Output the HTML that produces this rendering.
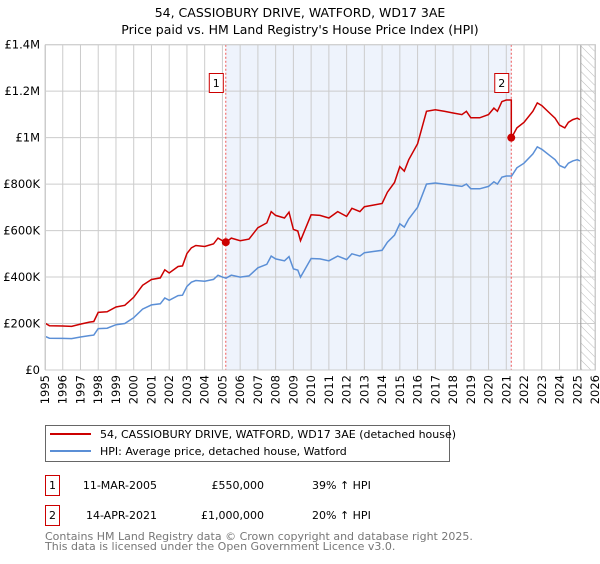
<!DOCTYPE html>
<html><head><meta charset="utf-8"><style>
body{margin:0;background:#fff;font-family:"DejaVu Sans","Liberation Sans",sans-serif;}
svg text{font-family:"DejaVu Sans","Liberation Sans",sans-serif;}
</style></head><body>
<svg id="c" width="600" height="560" xmlns="http://www.w3.org/2000/svg">
<defs><pattern id="hatch" width="6" height="6" patternUnits="userSpaceOnUse" patternTransform="rotate(-45)"><line x1="0" y1="0" x2="0" y2="6" stroke="#bbb" stroke-width="1"/></pattern></defs>
<text x="300" y="17" text-anchor="middle" font-size="12.5" fill="#000">54, CASSIOBURY DRIVE, WATFORD, WD17 3AE</text>
<text x="300" y="34" text-anchor="middle" font-size="12.5" fill="#000">Price paid vs. HM Land Registry's House Price Index (HPI)</text>
<g id="plot"></g>
<g>
<rect x="45.5" y="425.5" width="404" height="36" fill="#fff" stroke="#666"/>
<line x1="50" y1="434" x2="91" y2="434" stroke="#cc0000" stroke-width="2"/>
<text x="100" y="438" font-size="11">54, CASSIOBURY DRIVE, WATFORD, WD17 3AE (detached house)</text>
<line x1="50" y1="451" x2="91" y2="451" stroke="#5b8fd6" stroke-width="2"/>
<text x="100" y="455" font-size="11">HPI: Average price, detached house, Watford</text>
</g>
<g font-size="11">
<rect x="45.5" y="475.5" width="14" height="20" fill="#fff" stroke="#cc0000"/>
<text x="52.5" y="489" text-anchor="middle">1</text>
<text x="157" y="489" text-anchor="end">11-MAR-2005</text>
<text x="264" y="489" text-anchor="end">£550,000</text>
<text x="312" y="489">39% ↑ HPI</text>
<rect x="45.5" y="505.5" width="14" height="20" fill="#fff" stroke="#cc0000"/>
<text x="52.5" y="519" text-anchor="middle">2</text>
<text x="157" y="519" text-anchor="end">14-APR-2021</text>
<text x="264" y="519" text-anchor="end">£1,000,000</text>
<text x="312" y="519">20% ↑ HPI</text>
</g>
<text x="45" y="540" font-size="11" fill="#777">Contains HM Land Registry data © Crown copyright and database right 2025.</text>
<text x="45" y="550" font-size="11" fill="#777">This data is licensed under the Open Government Licence v3.0.</text>
</svg>
<script>
const hpiYears=[1995,1995.25,1996,1996.5,1997,1997.5,1997.75,1998,1998.5,1999,1999.5,2000,2000.5,2001,2001.5,2001.75,2002,2002.5,2002.75,2003,2003.25,2003.5,2004,2004.5,2004.75,2005,2005.2,2005.5,2006,2006.5,2007,2007.5,2007.75,2008,2008.5,2008.75,2009,2009.25,2009.4,2010,2010.5,2011,2011.5,2012,2012.3,2012.75,2013,2013.5,2014,2014.3,2014.7,2015,2015.25,2015.5,2016,2016.5,2017,2017.5,2018,2018.5,2018.75,2019,2019.5,2020,2020.3,2020.5,2020.75,2021,2021.3,2021.6,2022,2022.5,2022.75,2023,2023.5,2023.75,2024,2024.3,2024.5,2024.75,2025,2025.15];
const hpiValues=[145,137,136,135,142,148,150,178,180,195,200,225,262,280,285,310,300,320,322,360,378,385,382,390,408,400,395,408,400,405,440,455,490,478,470,488,435,430,400,480,478,470,490,475,500,490,505,510,515,550,580,629,615,650,700,800,805,800,795,790,800,780,780,790,810,800,830,835,835,870,890,930,960,950,920,905,880,870,890,900,905,900];
const saleDates=[2005.19,2021.28];
const salePrices=[550,1000];
const yTicks=[0,200,400,600,800,1000,1200,1400];
const yTickLabels=["£0","£200K","£400K","£600K","£800K","£1M","£1.2M","£1.4M"];
const xTicks=[1995,1996,1997,1998,1999,2000,2001,2002,2003,2004,2005,2006,2007,2008,2009,2010,2011,2012,2013,2014,2015,2016,2017,2018,2019,2020,2021,2022,2023,2024,2025,2026];
const dataEnd=2025.2;

const L=45,R=595,T=44.7,B=370,X0=1995,X1=2026,YMAX=1400;
const sx=v=>L+(v-X0)/(X1-X0)*(R-L);
const sy=v=>B-v/YMAX*(B-T);
const NS="http://www.w3.org/2000/svg";
const g=document.getElementById('plot');
function mk(tag,attrs,parent){const e=document.createElementNS(NS,tag);for(const k in attrs)e.setAttribute(k,attrs[k]);(parent||g).appendChild(e);return e;}
function hpiAt(t){for(let i=1;i<hpiYears.length;i++){if(t<=hpiYears[i]){const a=hpiYears[i-1],b=hpiYears[i];return hpiValues[i-1]+(hpiValues[i]-hpiValues[i-1])*(t-a)/(b-a);}}return hpiValues[hpiValues.length-1];}

let e=mk('rect',{x:sx(saleDates[0]),y:T,width:sx(saleDates[1])-sx(saleDates[0]),height:B-T,fill:'#eef3fc'});


e=mk('rect',{x:sx(dataEnd),y:T,width:R-sx(dataEnd),height:B-T,fill:'url(#hatch)'});


xTicks.forEach(t=>{
  let l=mk('line',{x1:sx(t),x2:sx(t),y1:T,y2:B,stroke:'#ccc','stroke-width':1});
  
  
  const x=sx(t)+4,y=B+5;
  let grp=mk('g',{transform:'translate('+x+','+y+') rotate(-90)'});
  let tx=mk('text',{x:0,y:0,'font-size':11.5,'text-anchor':'end'},grp);
  tx.textContent=t;
  
  
});
yTicks.forEach((t,i)=>{
  let l=mk('line',{x1:L,x2:R,y1:sy(t),y2:sy(t),stroke:'#ccc','stroke-width':1});
  
  
  let tx=mk('text',{x:L-5,y:sy(t)+4,'font-size':11.5,'text-anchor':'end'});
  tx.textContent=yTickLabels[i];
  
  
});
e=mk('line',{x1:sx(dataEnd),x2:sx(dataEnd),y1:T,y2:B,stroke:'#999','stroke-width':1});


saleDates.forEach((d,i)=>{
  let l=mk('line',{x1:sx(d),x2:sx(d),y1:T,y2:B,stroke:'#ee5555','stroke-width':1,'stroke-dasharray':'2,2'});
  
  
});
let pts=hpiYears.map((y,i)=>sx(y).toFixed(1)+','+sy(hpiValues[i]).toFixed(1)).join(' ');
e=mk('polyline',{points:pts,fill:'none',stroke:'#5b8fd6','stroke-width':1.5});


const r0=salePrices[0]/hpiAt(saleDates[0]),r1=salePrices[1]/hpiAt(saleDates[1]);
let rp=[];
hpiYears.forEach((y,i)=>{if(y<saleDates[1])rp.push([y,hpiValues[i]*r0]);});
rp.push([saleDates[1],hpiAt(saleDates[1])*r0]);
rp.push([saleDates[1],salePrices[1]]);
hpiYears.forEach((y,i)=>{if(y>saleDates[1])rp.push([y,hpiValues[i]*r1]);});
e=mk('polyline',{points:rp.map(p=>sx(p[0]).toFixed(1)+','+sy(p[1]).toFixed(1)).join(' '),fill:'none',stroke:'#cc0000','stroke-width':1.5});


saleDates.forEach((d,i)=>{
  let c=mk('circle',{cx:sx(d),cy:sy(salePrices[i]),r:4,fill:'#cc0000'});
  
  
  let bx=sx(d)-3-14;
  let r=mk('rect',{x:bx+0.5,y:73.5,width:14,height:19,fill:'#fff',stroke:'#cc0000'});
  
  
  let t=mk('text',{x:bx+7.5,y:87,'font-size':11,'text-anchor':'middle'});
  t.textContent=String(i+1);
  
  
});
e=mk('rect',{x:L+0.5,y:T,width:R-L,height:B-T,fill:'none',stroke:'#ccc'});


</script>
</body></html>
